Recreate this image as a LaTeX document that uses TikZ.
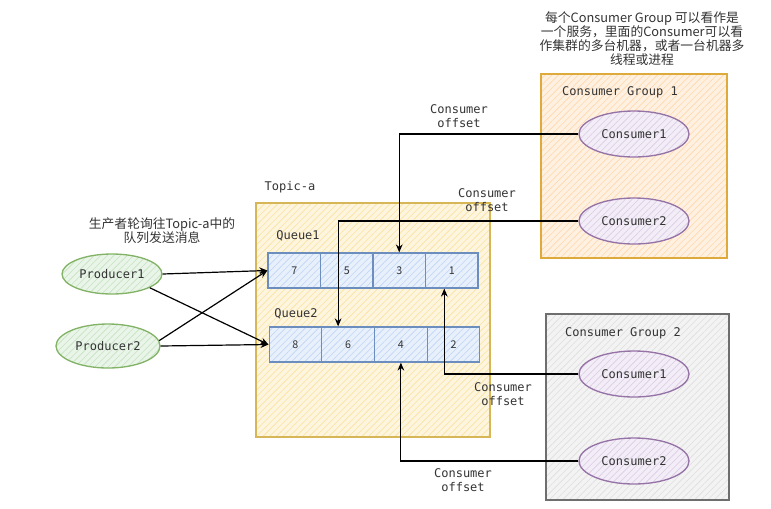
\documentclass[tikz,border=0pt]{standalone}
\usepackage{fontspec}
\setmonofont{DejaVu Sans Mono}
\newfontfamily\cjk{Noto Sans CJK SC}
\usepackage{xcolor}
\usepackage{tikz}
\usetikzlibrary{arrows.meta,positioning,shapes.geometric,patterns.meta}
\definecolor{txtGray}{RGB}{51,51,51}
\definecolor{topicLine}{RGB}{214,182,86}
\definecolor{topicFill}{RGB}{250,226,160}
\definecolor{groupOneLine}{RGB}{222,170,60}
\definecolor{groupOneFill}{RGB}{255,214,170}
\definecolor{groupTwoLine}{RGB}{110,110,110}
\definecolor{groupTwoFill}{RGB}{222,222,222}
\definecolor{queueLine}{RGB}{108,142,191}
\definecolor{queueFill}{RGB}{190,212,245}
\definecolor{prodLine}{RGB}{130,179,102}
\definecolor{prodFill}{RGB}{196,226,192}
\definecolor{consLine}{RGB}{150,115,166}
\definecolor{consFill}{RGB}{218,204,228}

\begin{document}
\begin{tikzpicture}[x=0.75pt,y=-0.75pt,
  hatch/.style={preaction={fill=#1!35!white}, pattern={Lines[angle=45,distance=3.5pt,line width=0.45pt]}, pattern color=#1},
  mono/.style={font=\ttfamily\fontsize{9}{11}\selectfont, text=txtGray},
  note/.style={font=\cjk\fontsize{9.6}{10.5}\selectfont, text=txtGray, align=center},
  cell/.style={draw=queueLine, line width=0.9pt, hatch=queueFill, minimum width=39.4pt, minimum height=26.25pt, inner sep=0pt, font=\cjk\fontsize{8}{9}\selectfont, text=txtGray},
  blob/.style={ellipse, line width=1pt, inner sep=0pt, minimum width=82.5pt, minimum height=34.5pt, mono},
  link/.style={draw=black, line width=0.9pt, -{Stealth[length=6pt,width=5pt]}}]
\useasboundingbox (0,0) rectangle (771,508);

\node[draw=topicLine, line width=1.1pt, hatch=topicFill, minimum width=175.5pt, minimum height=175.5pt] (topic) at (373,320) {};
\node[draw=groupOneLine, line width=1.1pt, hatch=groupOneFill, minimum width=139.5pt, minimum height=138pt] (grp1) at (634,166) {};
\node[draw=groupTwoLine, line width=1.1pt, hatch=groupTwoFill, minimum width=137.25pt, minimum height=139.5pt] (grp2) at (637.5,407) {};

\node[mono] (topicLbl) at (290,187) {Topic-a};
\node[mono] (grp1Lbl) at (620,92) {Consumer Group 1};
\node[mono] (grp2Lbl) at (623,333) {Consumer Group 2};
\node[mono] (q1Lbl) at (298,236) {Queue1};
\node[mono] (q2Lbl) at (296,314) {Queue2};

\foreach \v [count=\i] in {7,5,3,1}
  \node[cell] (q1c\i) at ({268+52.5*(\i-0.5)},270.5) {\v};
\foreach \v [count=\i] in {8,6,4,2}
  \node[cell] (q2c\i) at ({269+52.75*(\i-0.5)},344.5) {\v};

\node[blob, draw=prodLine, hatch=prodFill, minimum width=75pt, minimum height=30pt] (p1) at (112,274) {Producer1};
\node[blob, draw=prodLine, hatch=prodFill, minimum width=78pt, minimum height=33pt] (p2) at (108,346) {Producer2};

\node[blob, draw=consLine, hatch=consFill] (g1c1) at (634,134) {Consumer1};
\node[blob, draw=consLine, hatch=consFill] (g1c2) at (634,221) {Consumer2};
\node[blob, draw=consLine, hatch=consFill] (g2c1) at (634,374) {Consumer1};
\node[blob, draw=consLine, hatch=consFill] (g2c2) at (634,461) {Consumer2};

\node[note] (groupNote) at (642,39) {每个Consumer Group 可以看作是\\一个服务，里面的Consumer可以看\\作集群的多台机器，或者一台机器多\\线程或进程};
\node[note] (prodNote) at (162,231) {生产者轮询往Topic-a中的\\队列发送消息};

\draw[link] (p1.east) -- (q1c1.west);
\draw[link] (p1.-20) -- (q2c1.west);
\draw[link] (p2.east) -- (q2c1.west);
\draw[link] (p2.6) -- (q1c1.west);

\draw[link] (g1c1.west) -| (q1c3.north);
\draw[link] (g1c2.west) -| ([xshift=-7.5pt]q2c2.north);
\draw[link] (g2c1.west) -| ([xshift=-5.6pt]q1c4.south);
\draw[link] (g2c2.west) -| (q2c3.south);

\node[mono, align=center] (off1) at (459,116) {Consumer\\offset};
\node[mono, align=center] (off2) at (487,200) {Consumer\\offset};
\node[mono, align=center] (off3) at (503,394) {Consumer\\offset};
\node[mono, align=center] (off4) at (463,480) {Consumer\\offset};
\end{tikzpicture}
\end{document}
